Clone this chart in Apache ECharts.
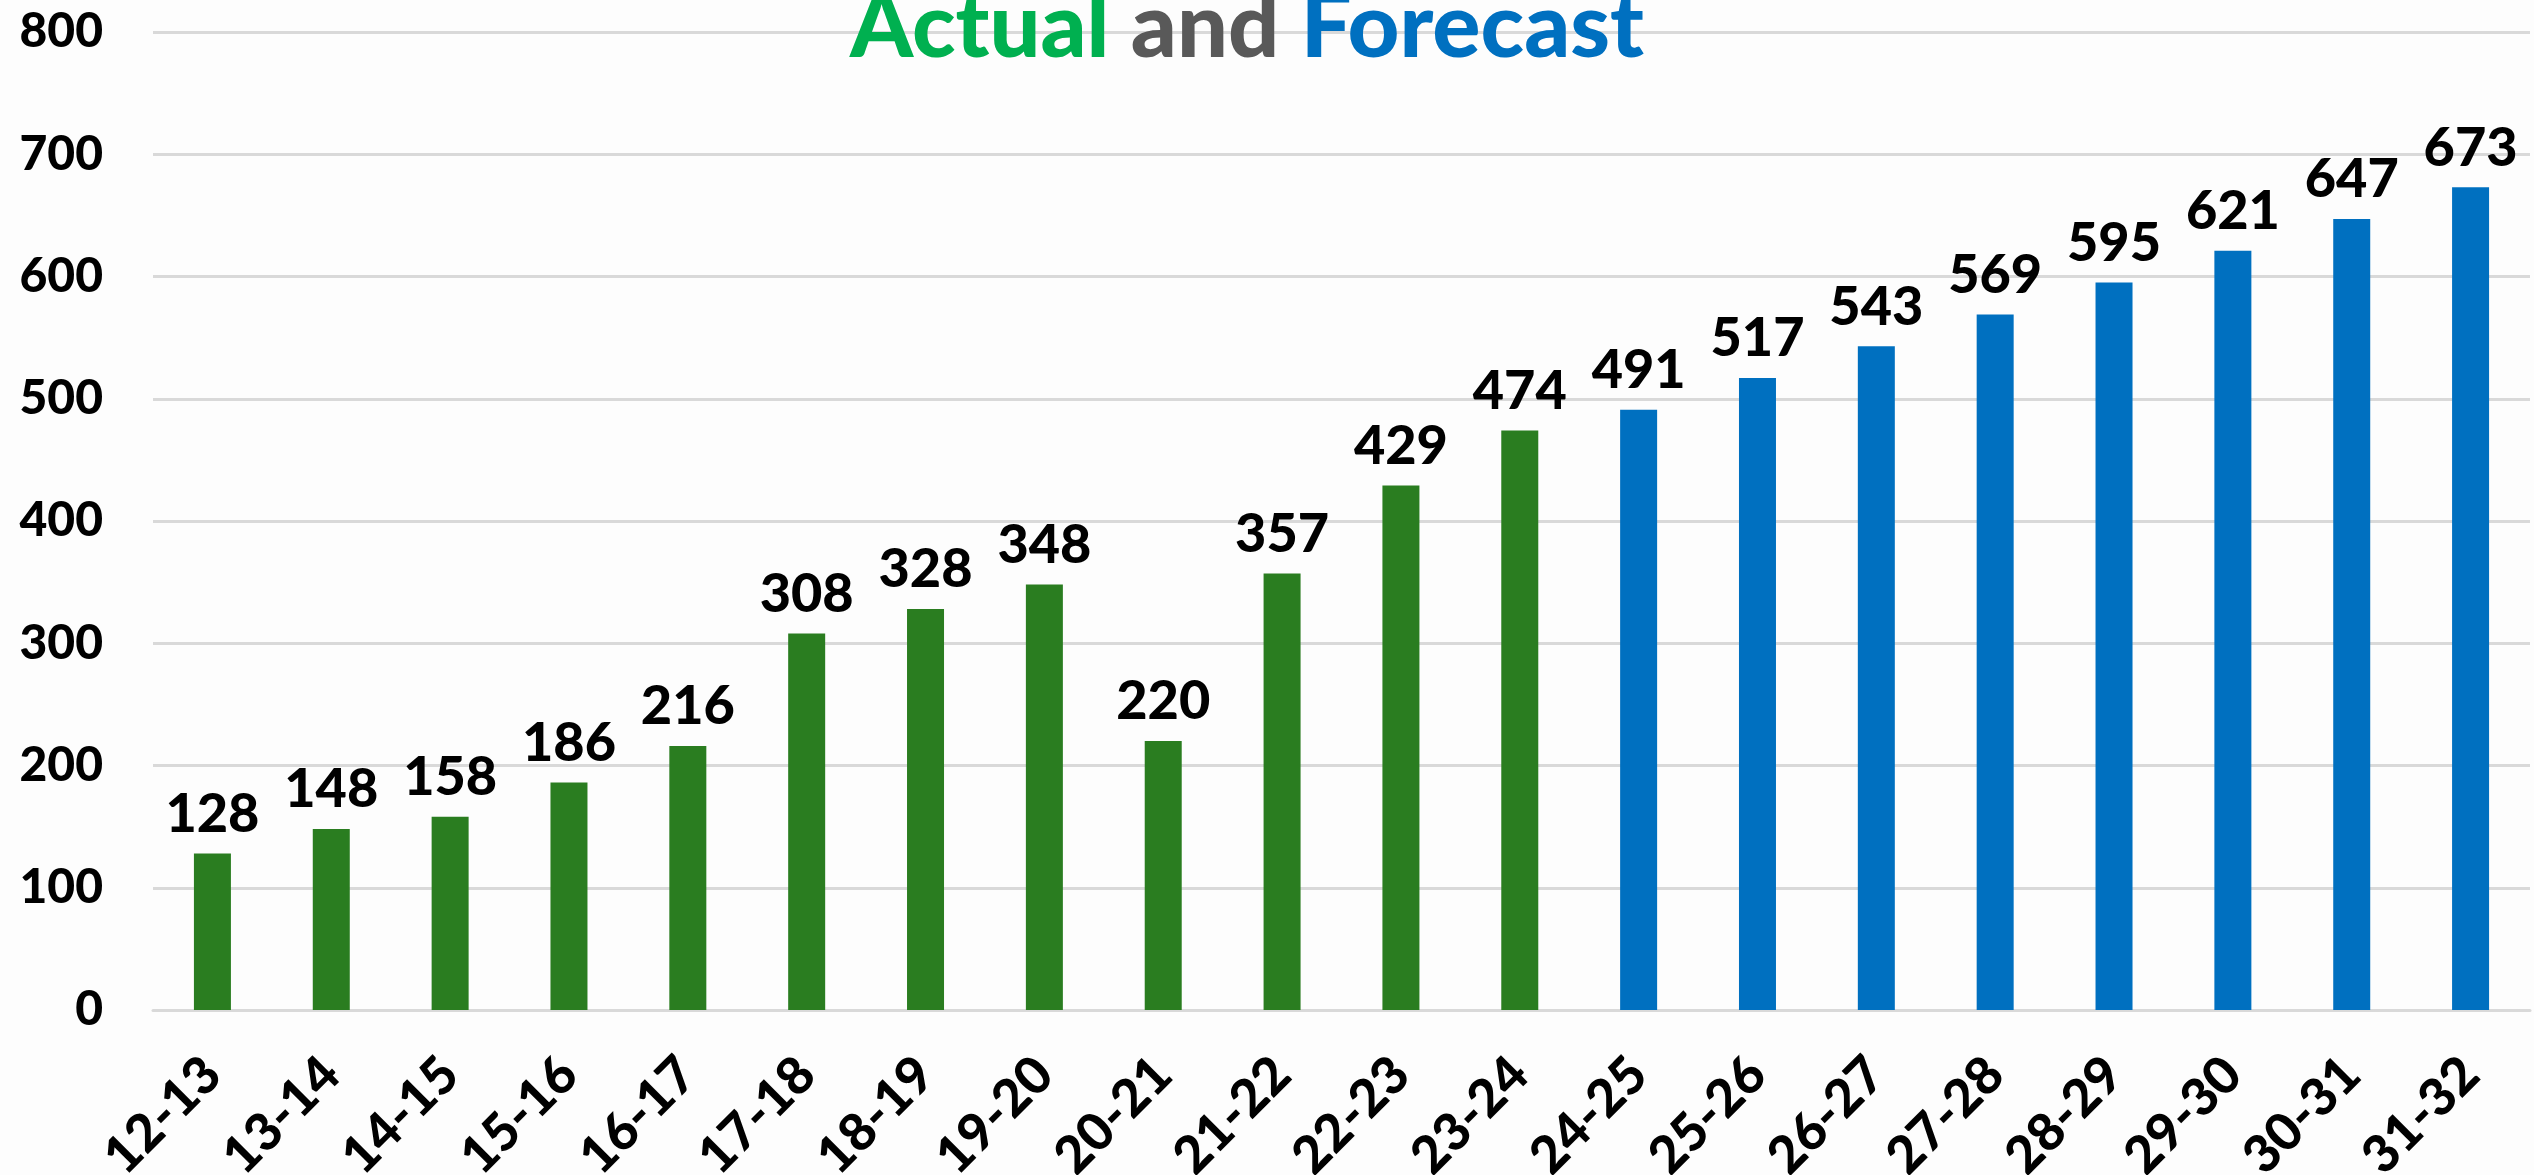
<!DOCTYPE html>
<html>
<head>
<meta charset="utf-8">
<style>
  html, body { margin: 0; padding: 0; background: #fdfdfd; }
  #chart { width: 2534px; height: 1175px; }
</style>
<script src="https://cdn.jsdelivr.net/npm/echarts@6/dist/echarts.min.js"></script>
</head>
<body>
<div id="chart"></div>
<script>
// 年度区间
const categories = ['12-13', '13-14', '14-15', '15-16', '16-17', '17-18', '18-19', '19-20', '20-21', '21-22',
  '22-23', '23-24', '24-25', '25-26', '26-27', '27-28', '28-29', '29-30', '30-31', '31-32']
// 实际值
const actualValues = [128, 148, 158, 186, 216, 308, 328, 348, 220, 357, 429, 474]
// 预测值
const forecastValues = [491, 517, 543, 569, 595, 621, 647, 673]

const GREEN = '#2a7d20'
const BLUE = '#0070c0'
const FONT = 'Lato, "Open Sans", sans-serif'

const barData = actualValues
  .map(v => ({ value: v, itemStyle: { color: GREEN } }))
  .concat(forecastValues.map(v => ({ value: v, itemStyle: { color: BLUE } })))

const chart = echarts.init(document.getElementById('chart'))

const titleRich = color => ({ color, fontSize: 90, fontWeight: 900, fontFamily: FONT })

chart.setOption({
  backgroundColor: '#fdfdfd',
  animation: false,
  title: {
    left: 845,
    top: -22,
    text: '{a|Actual} {b|and} {c|Forecast}',
    textStyle: {
      fontFamily: FONT,
      fontSize: 90,
      fontWeight: 900,
      rich: {
        a: titleRich('#00b050'),
        b: titleRich('#595959'),
        c: titleRich(BLUE)
      }
    }
  },
  grid: {
    left: 153,
    right: 4,
    top: 32,
    bottom: 165,
    containLabel: false,
    outerBoundsMode: 'none'
  },
  xAxis: {
    type: 'category',
    data: categories,
    axisLine: { show: true, lineStyle: { color: '#d9d9d9', width: 3 } },
    axisTick: { show: false },
    axisLabel: {
      rotate: 45,
      interval: 0,
      margin: 56,
      color: '#000',
      fontFamily: FONT,
      fontSize: 52,
      fontWeight: 900
    }
  },
  yAxis: {
    type: 'value',
    min: 0,
    max: 800,
    interval: 100,
    axisLine: { show: false },
    axisTick: { show: false },
    splitLine: { lineStyle: { color: '#d9d9d9', width: 3 } },
    axisLabel: {
      margin: 50,
      color: '#000',
      fontFamily: FONT,
      fontSize: 48,
      fontWeight: 900
    }
  },
  series: [
    {
      type: 'bar',
      barWidth: 37,
      data: barData,
      label: {
        show: true,
        position: 'top',
        distance: 12,
        color: '#000',
        fontFamily: FONT,
        fontSize: 54,
        fontWeight: 900
      }
    }
  ]
})
</script>
</body>
</html>
